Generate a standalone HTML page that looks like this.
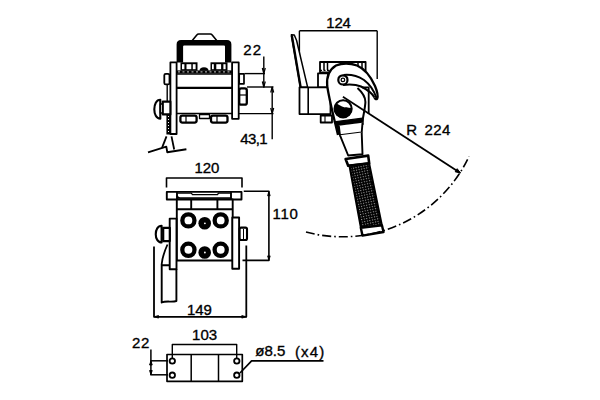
<!DOCTYPE html>
<html><head><meta charset="utf-8">
<style>
html,body{margin:0;padding:0;background:#fff;width:600px;height:400px;overflow:hidden}
svg{display:block}
text{font-family:"Liberation Sans",sans-serif;fill:#000;stroke:#000;stroke-width:0.35}
</style></head><body>
<svg width="600" height="400" viewBox="0 0 600 400">
<defs><pattern id="grip" width="2.6" height="2.6" patternUnits="userSpaceOnUse" patternTransform="rotate(-12)"><rect width="2.6" height="2.6" fill="#000"/><rect x="0.9" y="0.9" width="1" height="1" fill="#bbb"/></pattern></defs>
<g fill="none" stroke="#000" stroke-width="1.9" stroke-linejoin="round">

<!-- ===== FRONT VIEW ===== -->
<path d="M192.3,40.5 L197,34.8 Q197.6,34 198.6,34 H210.4 Q211.4,34 212,34.8 L216.7,40.5" stroke-width="1.6"/>
<path d="M176.6,62.4 V44.5 Q176.6,40 181,40 H227 Q231.4,40 231.4,44.5 V62.4 H225 V46.5 Q225,45.5 224,45.5 H184.1 Q183.1,45.5 183.1,46.5 V62.4 Z" fill="#000" stroke="none"/>

<!-- plates -->
<rect x="170.4" y="62.4" width="6.2" height="71.6" fill="#fff" stroke-width="1.8"/>
<rect x="232.1" y="62.4" width="6.6" height="56.4" fill="#fff" stroke-width="1.8"/>
<!-- top nuts -->
<rect x="180.5" y="62.3" width="17" height="8.4" fill="#000" stroke="none"/>
<rect x="210.5" y="62.3" width="17" height="8.4" fill="#000" stroke="none"/>
<g fill="#fff" stroke="none">
<rect x="182" y="64.2" width="2.4" height="5"/><rect x="186.5" y="64.2" width="4.8" height="5"/><rect x="192.8" y="64.2" width="2.8" height="5"/>
<rect x="212" y="64.2" width="1.8" height="5"/><rect x="216.3" y="64.2" width="4.8" height="5"/><rect x="223.4" y="64.2" width="2.2" height="5"/>
</g>
<path d="M199.5,70.8 Q199.5,67.3 204,67.3 Q208.5,67.3 208.5,70.8 Z" fill="#000" stroke="none"/>
<!-- band + body -->
<rect x="176.6" y="70.4" width="55.5" height="3" fill="#000" stroke="none"/>
<line x1="178" y1="71.9" x2="231" y2="71.9" stroke="#fff" stroke-width="0.8" stroke-dasharray="2 2.5"/>
<line x1="176.6" y1="74" x2="232.1" y2="74" stroke-width="1.4"/>
<line x1="176.6" y1="87.8" x2="232.1" y2="87.8" stroke-width="2.2"/>
<line x1="176.6" y1="113.5" x2="232.1" y2="113.5" stroke-width="1.6"/>
<!-- bottom nuts -->
<rect x="180.4" y="115.6" width="16.2" height="7" rx="2" fill="#fff" stroke-width="2.3"/>
<rect x="211" y="115.6" width="16.5" height="7" rx="2" fill="#fff" stroke-width="2.3"/>
<line x1="186" y1="116" x2="186" y2="122" stroke-width="1.2"/><line x1="217" y1="116" x2="217" y2="122" stroke-width="1.2"/>
<rect x="199.5" y="114.5" width="10" height="4" fill="#fff" stroke-width="1.3"/>
<!-- left small rect, rod -->
<rect x="164.3" y="73.8" width="5.2" height="10.6" rx="1.5" fill="#fff" stroke-width="1.8"/>
<line x1="167.2" y1="84.4" x2="167.2" y2="102.5" stroke-width="1.4"/>
<!-- knob -->
<path d="M160.3,99.8 C152.3,99.8 152.3,118.7 160.3,118.7 Z" fill="#fff" stroke-width="2.1"/>
<rect x="160.3" y="104" width="2.5" height="9" fill="#fff" stroke-width="1.4"/>
<rect x="162.8" y="101.6" width="7.6" height="12.8" fill="#fff" stroke-width="2.1"/>
<!-- spring -->
<rect x="166.4" y="114.5" width="4.6" height="20" fill="#000" stroke="none"/>
<line x1="168.5" y1="116" x2="168.5" y2="134" stroke="#fff" stroke-width="1" stroke-dasharray="1 2"/>
<!-- V + ground -->
<polyline points="166.5,136.4 162,147.8" stroke-width="1.8"/>
<polyline points="171.5,136.4 174.2,149.5" stroke-width="1.8"/>
<polyline points="148,152.3 166.3,146.7 167.3,152.3 186.4,149.3" stroke-width="1.9"/>
<!-- right small parts -->
<rect x="239.2" y="73.8" width="4.8" height="10" fill="#fff" stroke-width="1.7"/>
<rect x="239.2" y="88.3" width="7.6" height="16.4" rx="2" fill="#fff" stroke-width="2.3"/>
<line x1="239.8" y1="95" x2="246" y2="95" stroke-width="1.2"/>
<!-- dims 22 / 43,1 -->
<g stroke-width="1.4">
<line x1="244.5" y1="73.6" x2="265" y2="73.6"/>
<line x1="247" y1="87" x2="273.5" y2="87"/>
<line x1="238.7" y1="113.6" x2="273.5" y2="113.6"/>
<line x1="263.8" y1="56.5" x2="263.8" y2="87.5"/>
<line x1="272.2" y1="87" x2="272.2" y2="139.3"/>
</g>
<path d="M262.3,68 L263.8,73.6 L265.3,68 M262.3,81.5 L263.8,87 L265.3,81.5 M270.7,92.5 L272.2,87 L273.7,92.5 M270.7,108 L272.2,113.6 L273.7,108" stroke-width="1.2"/>

<!-- ===== SIDE VIEW ===== -->
<g stroke-width="1.4">
<line x1="299.4" y1="30.8" x2="377.2" y2="30.8"/>
<line x1="299.4" y1="30.8" x2="299.4" y2="62"/>
<line x1="377.2" y1="30.8" x2="377.2" y2="79"/>
</g>
<!-- lever -->
<polygon points="291.4,34.8 294.3,35 296.6,40.5 307.6,87.2 300.4,87.2" fill="#fff" stroke-width="1.5"/>
<line x1="291.8" y1="35.5" x2="300.6" y2="87.2" stroke-width="2.4"/>
<!-- strip & blocks -->
<rect x="320" y="62" width="45.6" height="10.5" fill="#fff" stroke-width="1.8"/>
<g stroke-width="1.5"><line x1="324" y1="62" x2="324" y2="70"/><line x1="327.5" y1="62" x2="327.5" y2="70"/><line x1="358" y1="62" x2="358" y2="70"/><line x1="362" y1="62" x2="362" y2="70"/></g>
<line x1="320" y1="70.3" x2="365.6" y2="70.3" stroke-width="1.3" stroke-dasharray="2 1.5"/>
<rect x="318" y="73.3" width="10" height="14" fill="#fff" stroke-width="1.8"/>
<rect x="299.5" y="87.3" width="31" height="26.8" fill="#fff" stroke-width="1.8"/>
<line x1="308.2" y1="87.3" x2="308.2" y2="114" stroke-width="1.6"/>
<rect x="320.7" y="115.5" width="11.3" height="7" fill="#fff" stroke-width="1.8"/>
<line x1="325" y1="116" x2="325" y2="122" stroke-width="1.1"/>
<!-- hook body -->
<path d="M338,135 L335,122.5 C332.5,112 329,98 327.2,86 C326.5,78 328.5,70 336,65.5 C342,63 350,63 357,65.5 C365,69 371,77 375,86 C377.5,92 378.2,96 377.2,98.6 C376,99.8 374.8,98.8 374.5,97.5 L363,117 L362,135 Z" fill="#fff" stroke="none"/>
<path d="M338,135 L335,122.5 C332.5,112 329,98 327.2,86 C326.5,78 328.5,70 336,65.5 C342,63 350,63 357,65.5 C365,69 371,77 375,86 C377.5,92 378.2,96 377.2,98.6 C376,99.8 374.8,98.8 374.5,97.5" stroke-width="2.3"/>
<path d="M343.5,75 C349,74.5 357,75.5 364,80 C370,84.5 374,90.5 376.5,98" stroke-width="2"/>
<path d="M343,85 C350,84.2 356,84.5 361,86.5 C367,89.5 372,93 374.5,97.5" stroke-width="2"/>
<path d="M357.5,88 C362.5,92.5 365.4,97.5 365.4,102 C365.2,107 364,112 363,118 L362.5,125" stroke-width="2"/>
<path d="M362,87.4 H368.7 V114" stroke-width="1.8"/>
<!-- pin -->
<circle cx="342.9" cy="79.9" r="4.6" fill="#fff" stroke-width="2.2"/>
<circle cx="342.9" cy="79.9" r="1.8" fill="none" stroke-width="1.3"/>
<!-- ball -->
<circle cx="343.1" cy="108.8" r="9" fill="#000" stroke="none"/>
<path d="M336.5,103.5 C339,100.5 344,99.8 348,101.5 C350.5,103 351.5,105.5 351,108 C348,107.5 345,108 342,106.5 C340,105.5 338.5,104.5 336.5,103.5 Z" fill="#fff" stroke="none"/>
<circle cx="343.1" cy="108.8" r="8.6" fill="none" stroke-width="2"/>
<!-- handle -->
<polygon points="334.2,121.8 362.5,118.2 362.5,122.8 338.5,125.8" fill="#000" stroke-width="1.2"/>
<line x1="336" y1="122" x2="339.4" y2="134" stroke-width="2.6"/>
<polyline points="338.8,125.8 340,135.3 361.7,132.5 362.5,122.8" fill="#fff" stroke-width="1.9"/>
<polyline points="340,135.3 348.2,155.5 362.5,154.2 361.7,132.5" fill="#fff" stroke-width="1.9"/>
<polygon points="345.6,159 368.2,155.6 369.2,163.3 348.2,165.7" fill="#fff" stroke-width="2.6"/>
<polygon points="349.5,165.6 369,163.3 381.8,225.4 361,227.7" fill="url(#grip)" stroke-width="2.2"/>
<polygon points="360.8,227.8 382,225.4 383.5,232 362.5,235.6" fill="#fff" stroke-width="2.4"/>
<!-- radius -->
<line x1="342.9" y1="96.8" x2="460.4" y2="173" stroke-width="1.8"/>
<polygon points="460.4,173 455.2,171.8 457.2,168.7" fill="#000" stroke-width="1"/>
<path d="M306,232 A140,140 0 0 0 469,156.5" stroke-width="1.6" stroke-dasharray="9 3 1.6 3"/>

<!-- ===== TOP VIEW ===== -->
<polyline points="166.5,187.5 166.5,178 242,178 242,187.5" stroke-width="1.6"/>
<rect x="166.8" y="191.9" width="74.7" height="7.6" fill="#fff" stroke-width="1.9"/>
<line x1="177" y1="191.9" x2="177" y2="199.5"/>
<line x1="231" y1="191.9" x2="231" y2="199.5"/>
<polyline points="178,193.2 191.3,193.2 192.5,194.6 217.5,194.6 218.5,193.2 231,193.2" stroke-width="1.3"/>
<path d="M177,195.5 Q177.5,198 180,198 H231" stroke-width="1.6"/>
<rect x="176.8" y="199.5" width="55.9" height="61" fill="#fff" stroke-width="1.9"/>
<line x1="176.8" y1="209.3" x2="232.7" y2="209.3"/>
<line x1="191.2" y1="199.5" x2="191.2" y2="209.3"/>
<line x1="217.4" y1="199.5" x2="217.4" y2="209.3"/>
<g fill="none" stroke-width="4.3">
<circle cx="188.4" cy="220.4" r="6.05"/><circle cx="220.7" cy="220.4" r="6.05"/>
<circle cx="188.4" cy="249.8" r="6.1"/><circle cx="220.7" cy="249.8" r="6.1"/>
</g>
<g fill="#000" stroke="none">
<circle cx="204.7" cy="223.3" r="6.3"/><circle cx="204.7" cy="252.5" r="6.3"/>
</g>
<g fill="#fff" stroke="none">
<circle cx="204.9" cy="223.3" r="0.9"/><circle cx="204.9" cy="252.5" r="0.9"/>
</g>
<!-- side plates -->
<rect x="169.7" y="218.6" width="6.8" height="50.6" fill="#fff" stroke-width="1.9"/>
<rect x="232.3" y="217.5" width="6.8" height="51.2" fill="#fff" stroke-width="1.9"/>
<!-- left knob & nut -->
<path d="M161.6,225.8 C153.8,225.8 153.8,242.5 161.6,242.5 Z" fill="#fff" stroke-width="2.1"/>
<line x1="161.6" y1="231" x2="163" y2="231" stroke-width="1.2"/><line x1="161.6" y1="238" x2="163" y2="238" stroke-width="1.2"/>
<rect x="163.2" y="227.8" width="6.6" height="13.3" fill="#fff" stroke-width="2.2"/>
<!-- right nut -->
<rect x="239.6" y="227.6" width="7.4" height="12.4" rx="1.5" fill="#fff" stroke-width="2.1"/>
<line x1="243.5" y1="229" x2="243.5" y2="239" stroke-width="1"/>
<!-- handle -->
<path d="M167.5,244.5 C165,250 162.5,256 161.7,264" stroke-width="1.8"/>
<path d="M161.7,265.3 H170 M176.4,269 V301 C172,302.5 166,300.5 161.7,302.5 V264" stroke-width="1.9"/>
<!-- dim 110 -->
<polyline points="243.75,191.3 268.9,191.3 268.9,260.4 242.5,260.4" stroke-width="1.6"/>
<!-- dim 149 -->
<polyline points="154,246.5 154,316.8 246.3,316.8 246.3,245.5" stroke-width="1.8"/>
<path d="M154,316.8 l4.5,-1.3 v2.6 Z M246.3,316.8 l-4.5,-1.3 v2.6 Z M268.9,191.3 l-1.3,4.5 h2.6 Z M268.9,260.4 l-1.3,-4.5 h2.6 Z" fill="#000" stroke-width="0.8"/>

<!-- ===== BASE PLATE ===== -->
<rect x="167" y="354.5" width="75.3" height="26.8" stroke-width="1.7"/>
<line x1="191.2" y1="354.5" x2="191.2" y2="381.3" stroke-width="1.5"/>
<line x1="218.5" y1="354.5" x2="218.5" y2="381.3" stroke-width="1.5"/>
<g stroke-width="1.8" fill="#fff">
<circle cx="172.3" cy="361" r="2.7"/><circle cx="172.3" cy="375.2" r="2.7"/>
<circle cx="236.8" cy="361" r="2.7"/><circle cx="236.8" cy="375.2" r="2.7"/>
</g>
<polyline points="172.3,358 172.3,344.5 236.7,344.5 236.7,358" stroke-width="1.4"/>
<polyline points="168,360.8 150.3,360.8" stroke-width="1.5"/>
<polyline points="168,374.8 150.3,374.8" stroke-width="1.5"/>
<line x1="150.9" y1="349.5" x2="150.9" y2="375" stroke-width="1.5"/>
<path d="M149.6,365 L150.9,361 L152.2,365 Z M149.6,370.5 L150.9,374.5 L152.2,370.5 Z" fill="#000" stroke-width="1"/>
<polyline points="240,373 251.6,360.8 323.5,360.8" stroke-width="1.7"/>
</g>

<g font-size="15">
<text x="243.25" y="54.5" letter-spacing="1.2">22</text>
<text x="240.3" y="144.3" letter-spacing="-0.6">43,1</text>
<text x="326.3" y="27.6" letter-spacing="-0.2">124</text>
<text x="406.3" y="134.7">R</text>
<text x="424.5" y="134.7" letter-spacing="0.4">224</text>
<text x="194.4" y="172.6">120</text>
<text x="272.5" y="219" letter-spacing="0.7">110</text>
<text x="187" y="314.8" letter-spacing="-0.1">149</text>
<text x="192.1" y="339.7">103</text>
<text x="132.1" y="348.3" letter-spacing="0.5">22</text>
<text x="255.3" y="356.3">ø8.5</text>
<text x="295" y="356.6" letter-spacing="1.1">(x4)</text>
</g>
</svg>
</body></html>
